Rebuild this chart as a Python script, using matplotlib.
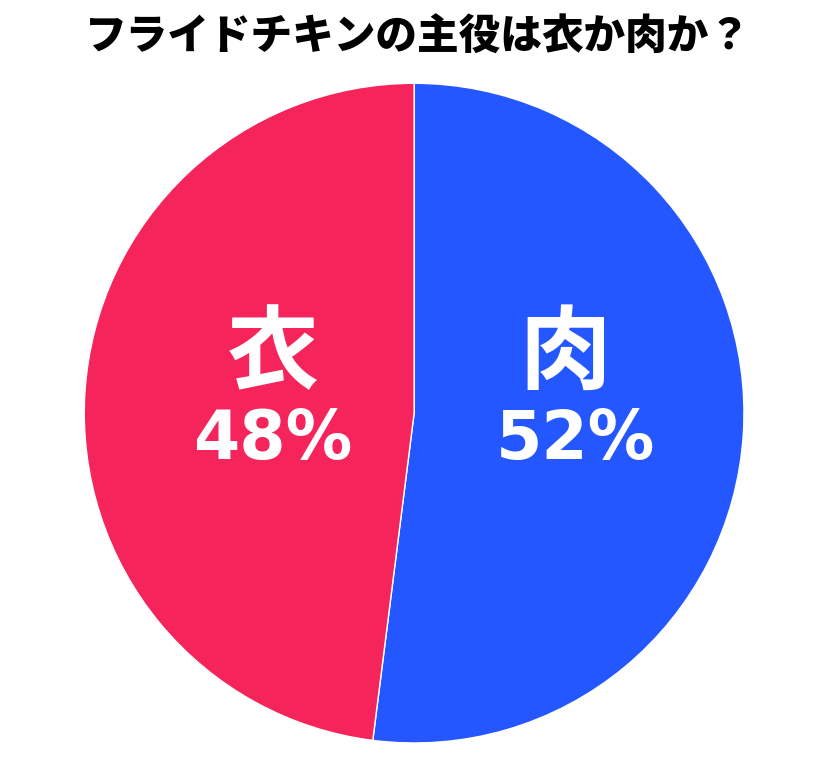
import matplotlib
matplotlib.use('Agg')
import matplotlib.pyplot as plt

plt.rcParams['font.family'] = ['Noto Sans CJK JP', 'DejaVu Sans']

# data
labels = ['肉', '衣']
values = [52, 48]
colors = ['#2457FF', '#F5245A']
title = 'フライドチキンの主役は衣か肉か？'

fig = plt.figure(figsize=(8.4, 7.6), dpi=100)
ax = fig.add_axes([0.1, 0.0224, 0.786, 0.868])

ax.pie(values, colors=colors, startangle=90, counterclock=False,
       radius=1, wedgeprops={'edgecolor': 'white', 'linewidth': 1})
ax.set_xlim(-1, 1)
ax.set_ylim(-1, 1)

# labels inside the slices
ax.text(0.458, 0.176, labels[0], color='white', fontsize=66, fontweight='bold',
        ha='center', va='center')
ax.text(0.488, -0.08, f'{values[0]}%', color='white', fontsize=48,
        fontweight='bold', ha='center', va='center', family='DejaVu Sans')
ax.text(-0.43, 0.176, labels[1], color='white', fontsize=66, fontweight='bold',
        ha='center', va='center')
ax.text(-0.43, -0.08, f'{values[1]}%', color='white', fontsize=48,
        fontweight='bold', ha='center', va='center', family='DejaVu Sans')

fig.text(0.497, 0.95, title, fontsize=30, fontweight='black',
         ha='center', va='center')

plt.savefig('out.png', dpi=100)
